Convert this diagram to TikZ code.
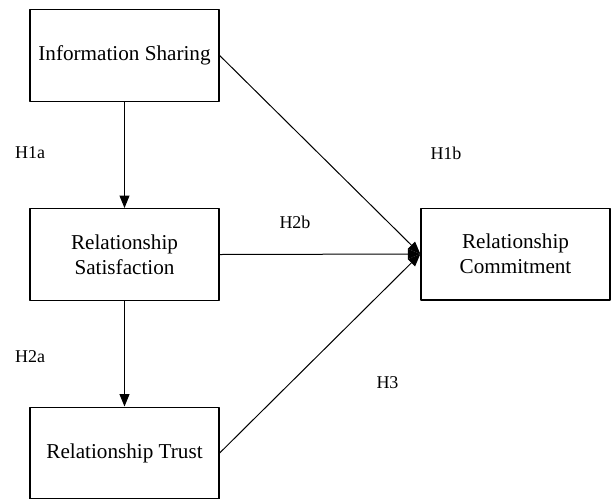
\documentclass[tikz,border=0pt]{standalone}
\usepackage{fontspec}
\setmainfont{Liberation Serif}
\usetikzlibrary{arrows.meta}
\tikzset{
  box/.style={draw, line width=0.8pt, minimum width=113.4pt, minimum height=55pt,
    inner sep=0pt, align=center, font=\fontsize{12.7}{15}\selectfont},
  hyp/.style={font=\fontsize{10.8}{13}\selectfont, inner sep=0pt},
  link/.style={-{Triangle[length=7.5pt,width=6pt]}, line width=0.6pt}
}
\begin{document}
\begin{tikzpicture}[x=0.6pt, y=-0.6pt, line join=round]
  \useasboundingbox (0,0) rectangle (614,498);
  % constructs
  \node[box] (info) at (124.5,55.5) {Information Sharing};
  \node[box] (satis) at (124.5,254.5) {Relationship\\Satisfaction};
  \node[box] (trust) at (124.5,453) {Relationship Trust};
  \node[box] (commit) at (515.5,254) {Relationship\\Commitment};
  % paths
  \draw[link] (info.south) -- (satis.north);
  \draw[link] (satis.south) -- (trust.north);
  \draw[link] (info.east) -- (commit.west);
  \draw[link] (satis.east) -- (commit.west);
  \draw[link] (trust.east) -- (commit.west);
  % hypotheses
  \node[hyp] (h1a) at (30,153) {H1a};
  \node[hyp] (h1b) at (446,153) {H1b};
  \node[hyp] (h2b) at (295,222) {H2b};
  \node[hyp] (h2a) at (30,357) {H2a};
  \node[hyp] (h3) at (387.5,383) {H3};
\end{tikzpicture}
\end{document}
